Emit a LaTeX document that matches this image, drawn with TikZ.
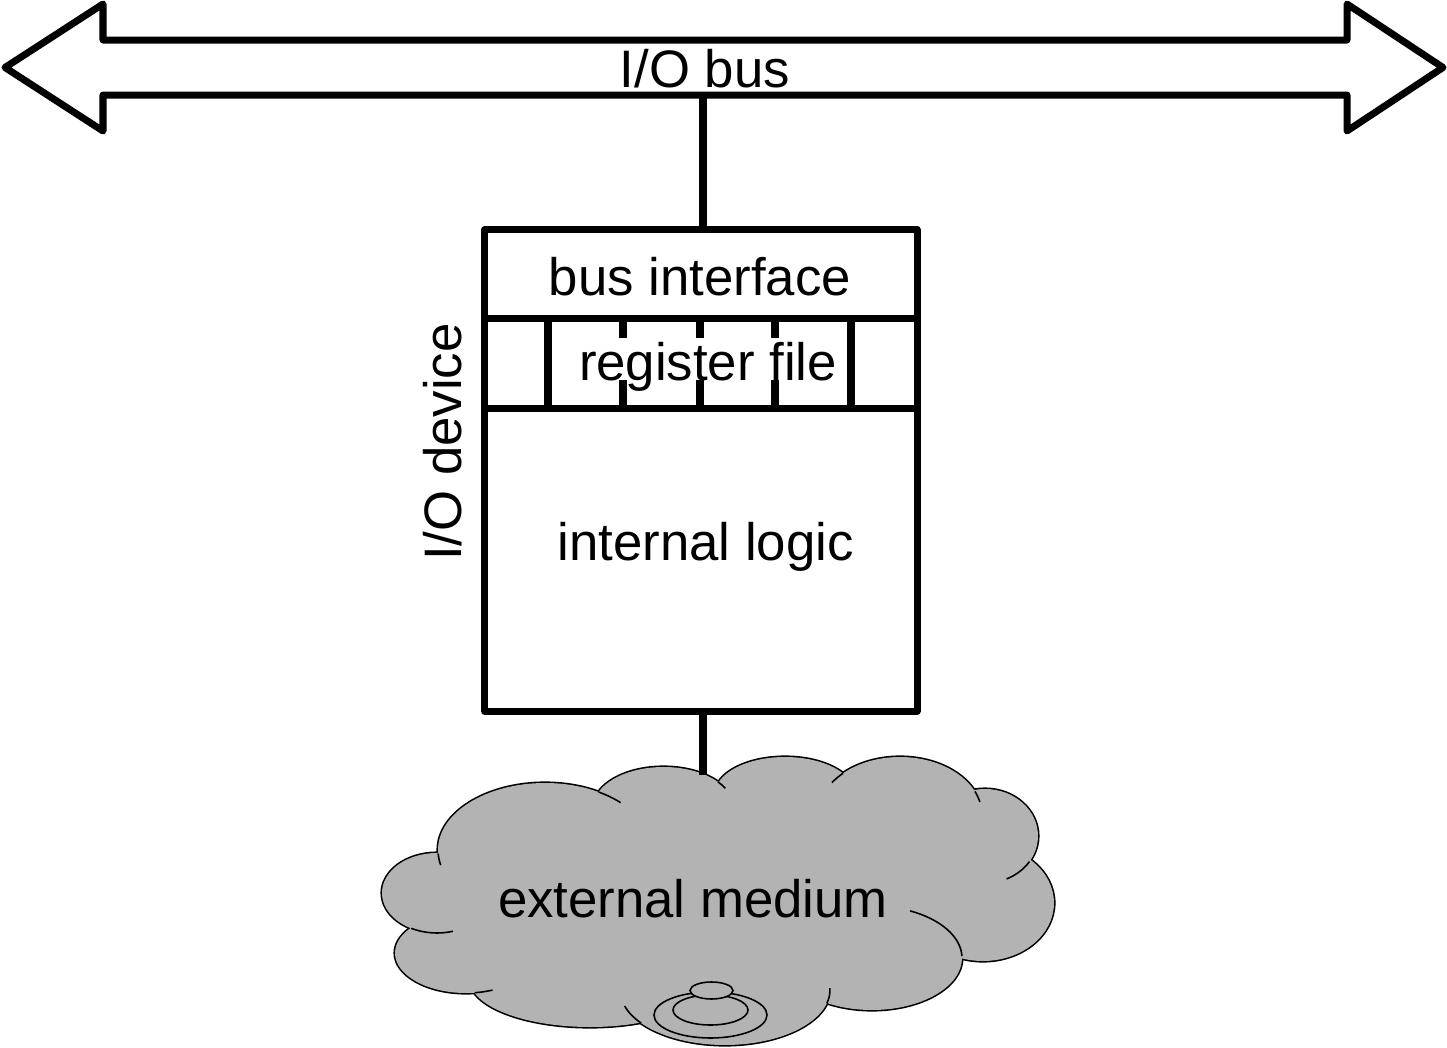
\documentclass[tikz,border=0pt]{standalone}
\usepackage{fontspec}
\setmainfont{Liberation Sans}
\definecolor{cloudGray}{RGB}{179,179,179}
\tikzset{
  heavy/.style={line width=0.07cm, line join=round},
  txt/.style={font=\fontsize{15}{18}\selectfont, inner sep=0pt, anchor=base},
  devbox/.style={heavy, draw, minimum width=4.32cm, minimum height=4.81cm, inner sep=0pt},
  puffline/.style={line width=0.45pt},
}

\begin{document}
\begin{tikzpicture}[x=0.01cm, y=-0.01cm]
  \useasboundingbox (0,0) rectangle (1447,1048);
  % bus
  \draw[heavy] (5,67.5) -- (103,4) -- (103,40) -- (1347,40) -- (1347,4) -- (1443,67.5)
    -- (1347,131) -- (1347,95) -- (103,95) -- (103,131) -- cycle;
  \node[txt] (bus) at (705,87) {I/O bus};
  \coordinate (bustap) at (703,95);
  % device
  \node[devbox] (dev) at (701,470.5) {};
  \draw[heavy] (dev.west |- 0,318) -- (dev.east |- 0,318);
  \draw[heavy] (dev.west |- 0,408) -- (dev.east |- 0,408);
  \foreach \xd in {548,623,700,775,851}
    \draw[heavy] (\xd,318) -- (\xd,408);
  \node[txt] (bif) at (700,295) {bus interface};
  \node[txt, fill=white, text height=0.42cm, text depth=0pt] (regs) at (708,380) {register file};
  \node[txt] (logic) at (705.5,560) {internal logic};
  \node[txt, rotate=90] (devname) at (462,442) {I/O device};
  \draw[heavy] (bustap) -- (bustap |- dev.north);
  % cloud
  \foreach \cx/\cy/\rx/\ry in {545/850/107/67, 663.5/807/70/40, 785/794/70/37, 900/815/82/58,
      985/836/53/47, 983/903/71/58, 872/958/90/52, 725/990/105/55, 590/980/120/47,
      466/953/71/40, 437/893/55/40}
    \draw[line width=0.9pt] (\cx,\cy) ellipse [x radius=\rx, y radius=\ry];
  \fill[cloudGray] (545,850) -- (663.5,807) -- (785,794) -- (900,815) -- (985,836) -- (983,903)
    -- (872,958) -- (725,990) -- (590,980) -- (466,953) -- (437,893) -- cycle;
  \foreach \cx/\cy/\rx/\ry in {545/850/107/67, 663.5/807/70/40, 785/794/70/37, 900/815/82/58,
      985/836/53/47, 983/903/71/58, 872/958/90/52, 725/990/105/55, 590/980/120/47,
      466/953/71/40, 437/893/55/40}
    \fill[cloudGray] (\cx,\cy) ellipse [x radius=\rx, y radius=\ry];
  \foreach \cx/\cy/\rx/\ry/\ta/\tb in {545/850/107/67/-60/-45, 545/850/107/67/177/167,
      663.5/807/70/40/-39/-28, 900/815/82/58/-134/-146, 900/815/82/58/-24/-13,
      985/836/53/47/33/66, 872/958/90/52/-65/-2, 725/990/105/55/143/163,
      725/990/105/55/14/-2, 466/953/71/40/83/68, 437/893/55/40/118/73}
    \draw[puffline] (\cx,\cy) ++({\rx*cos(\ta)},{\ry*sin(\ta)})
      arc[start angle=\ta, end angle=\tb, x radius=\rx, y radius=\ry];
  \draw[puffline] (710.5,1015) ellipse [x radius=56.5, y radius=23];
  \draw[puffline] (710.5,1010) ellipse [x radius=37.5, y radius=15];
  \filldraw[puffline, fill=cloudGray] (711.5,990.5) ellipse [x radius=21.5, y radius=8.5];
  \node[txt] (ext) at (693,917) {external medium};
  \coordinate (cloudtop) at (703,775);
  \draw[heavy] (dev.south -| cloudtop) -- (cloudtop);
\end{tikzpicture}
\end{document}
